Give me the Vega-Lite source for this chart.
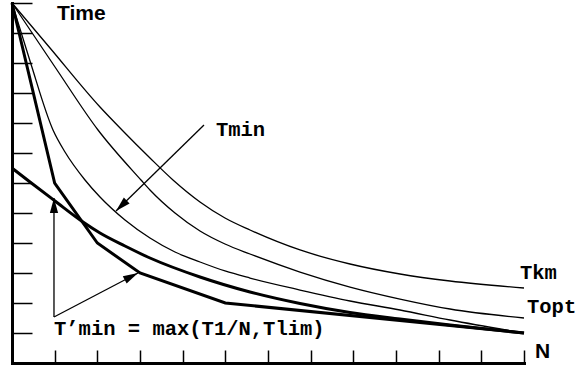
{
  "$schema": "https://vega.github.io/schema/vega-lite/v6.json",
  "width": 512,
  "height": 360,
  "autosize": {"type": "none"},
  "padding": {"left": 12, "top": 3, "right": 51, "bottom": 7},
  "background": "white",
  "config": {
    "view": {"stroke": null},
    "axis": {"domainColor": "black", "domainWidth": 3, "tickColor": "black", "tickWidth": 1.5, "labels": false, "grid": false, "tickCount": 12, "domainCap": "square"},
    "axisX": {"tickSize": -13},
    "axisY": {"tickSize": -20}
  },
  "datasets": {
    "curves": [
      {"curve": "Tkm", "n": 0, "t": 12},
      {"curve": "Tkm", "n": 0.891, "t": 10.5},
      {"curve": "Tkm", "n": 2.0625, "t": 8.533},
      {"curve": "Tkm", "n": 2.578, "t": 7.767},
      {"curve": "Tkm", "n": 3.234, "t": 6.833},
      {"curve": "Tkm", "n": 3.773, "t": 6.1},
      {"curve": "Tkm", "n": 4.406, "t": 5.367},
      {"curve": "Tkm", "n": 4.992, "t": 4.833},
      {"curve": "Tkm", "n": 5.578, "t": 4.433},
      {"curve": "Tkm", "n": 6.75, "t": 3.767},
      {"curve": "Tkm", "n": 7.922, "t": 3.3},
      {"curve": "Tkm", "n": 9.094, "t": 2.967},
      {"curve": "Tkm", "n": 10.266, "t": 2.733},
      {"curve": "Tkm", "n": 12, "t": 2.5},
      {"curve": "Topt", "n": 0, "t": 12},
      {"curve": "Topt", "n": 1.008, "t": 9.867},
      {"curve": "Topt", "n": 2.016, "t": 7.767},
      {"curve": "Topt", "n": 3.023, "t": 6.1},
      {"curve": "Topt", "n": 3.234, "t": 5.767},
      {"curve": "Topt", "n": 3.82, "t": 5.0},
      {"curve": "Topt", "n": 4.406, "t": 4.4},
      {"curve": "Topt", "n": 4.992, "t": 3.967},
      {"curve": "Topt", "n": 5.578, "t": 3.633},
      {"curve": "Topt", "n": 6.75, "t": 3.033},
      {"curve": "Topt", "n": 7.922, "t": 2.533},
      {"curve": "Topt", "n": 9.094, "t": 2.133},
      {"curve": "Topt", "n": 10.266, "t": 1.8},
      {"curve": "Topt", "n": 12, "t": 1.5},
      {"curve": "Tmin", "n": 0, "t": 12},
      {"curve": "Tmin", "n": 0.422, "t": 10.067},
      {"curve": "Tmin", "n": 0.961, "t": 7.767},
      {"curve": "Tmin", "n": 1.242, "t": 7.033},
      {"curve": "Tmin", "n": 1.711, "t": 6.1},
      {"curve": "Tmin", "n": 2.0625, "t": 5.533},
      {"curve": "Tmin", "n": 2.648, "t": 4.767},
      {"curve": "Tmin", "n": 3.234, "t": 4.167},
      {"curve": "Tmin", "n": 3.82, "t": 3.7},
      {"curve": "Tmin", "n": 4.406, "t": 3.367},
      {"curve": "Tmin", "n": 4.992, "t": 3.067},
      {"curve": "Tmin", "n": 5.578, "t": 2.833},
      {"curve": "Tmin", "n": 6.75, "t": 2.433},
      {"curve": "Tmin", "n": 7.922, "t": 2.067},
      {"curve": "Tmin", "n": 9.094, "t": 1.767},
      {"curve": "Tmin", "n": 10.266, "t": 1.433},
      {"curve": "Tmin", "n": 12, "t": 1.0}
    ],
    "tlim": [
      {"n": 0, "t": 6.5},
      {"n": 0.422, "t": 6.033},
      {"n": 1.008, "t": 5.4},
      {"n": 1.664, "t": 4.7},
      {"n": 2.0625, "t": 4.333},
      {"n": 2.648, "t": 3.9},
      {"n": 3.234, "t": 3.5},
      {"n": 4.406, "t": 2.867},
      {"n": 5.578, "t": 2.367},
      {"n": 6.75, "t": 1.983},
      {"n": 7.922, "t": 1.683},
      {"n": 9.094, "t": 1.467},
      {"n": 10.266, "t": 1.267},
      {"n": 12, "t": 1.0}
    ],
    "poly": [
      {"n": 0, "t": 12},
      {"n": 1, "t": 6},
      {"n": 2, "t": 4},
      {"n": 3, "t": 3},
      {"n": 5, "t": 2},
      {"n": 12, "t": 1}
    ],
    "arrows": [
      {"n": 4.5, "t": 7.933, "n2": 2.4375, "t2": 5.067, "dir": 225.6},
      {"n": 0.984, "t": 1.533, "n2": 0.984, "t2": 5.5, "dir": 0},
      {"n": 0.984, "t": 1.533, "n2": 2.953, "t2": 3.0, "dir": 62.3}
    ],
    "monoLabels": [
      {"label": "Tmin", "n": 4.78, "t": 7.567},
      {"label": "Tkm", "n": 11.906, "t": 2.8},
      {"label": "Topt", "n": 12.07, "t": 1.667},
      {"label": "T’min = max(T1/N,Tlim)", "n": 0.984, "t": 0.933}
    ],
    "sansLabels": [
      {"label": "Time", "n": 1.055, "t": 11.45},
      {"label": "N", "n": 12.26, "t": 0.167}
    ]
  },
  "layer": [
    {
      "data": {"name": "curves"},
      "mark": {"type": "line", "interpolate": "monotone", "color": "black", "strokeWidth": 1.3},
      "encoding": {
        "x": {"field": "n", "type": "quantitative", "title": null, "scale": {"domain": [0, 12], "nice": false}},
        "y": {"field": "t", "type": "quantitative", "title": null, "scale": {"domain": [0, 12], "nice": false}},
        "detail": {"field": "curve", "type": "nominal"}
      }
    },
    {
      "data": {"name": "tlim"},
      "mark": {"type": "line", "interpolate": "monotone", "color": "black", "strokeWidth": 3},
      "encoding": {
        "x": {"field": "n", "type": "quantitative", "title": null},
        "y": {"field": "t", "type": "quantitative", "title": null}
      }
    },
    {
      "data": {"name": "poly"},
      "mark": {"type": "line", "interpolate": "linear", "color": "black", "strokeWidth": 3, "strokeJoin": "miter"},
      "encoding": {
        "x": {"field": "n", "type": "quantitative", "title": null},
        "y": {"field": "t", "type": "quantitative", "title": null}
      }
    },
    {
      "data": {"name": "arrows"},
      "mark": {"type": "rule", "color": "black", "strokeWidth": 1.3},
      "encoding": {
        "x": {"field": "n", "type": "quantitative", "title": null},
        "y": {"field": "t", "type": "quantitative", "title": null},
        "x2": {"field": "n2"},
        "y2": {"field": "t2"}
      }
    },
    {
      "data": {"name": "arrows"},
      "mark": {"type": "point", "shape": "M0,0L-0.55,2L0.55,2Z", "filled": true, "color": "black", "opacity": 1, "size": 225, "strokeWidth": 0},
      "encoding": {
        "x": {"field": "n2", "type": "quantitative", "title": null},
        "y": {"field": "t2", "type": "quantitative", "title": null},
        "angle": {"field": "dir", "type": "quantitative", "scale": null}
      }
    },
    {
      "data": {"name": "monoLabels"},
      "mark": {"type": "text", "align": "left", "baseline": "alphabetic", "font": "Liberation Mono", "fontWeight": "bold", "fontSize": 20.5, "color": "black"},
      "encoding": {
        "x": {"field": "n", "type": "quantitative", "title": null},
        "y": {"field": "t", "type": "quantitative", "title": null},
        "text": {"field": "label"}
      }
    },
    {
      "data": {"name": "sansLabels"},
      "mark": {"type": "text", "align": "left", "baseline": "alphabetic", "font": "Liberation Sans", "fontWeight": "bold", "fontSize": 21, "color": "black"},
      "encoding": {
        "x": {"field": "n", "type": "quantitative", "title": null},
        "y": {"field": "t", "type": "quantitative", "title": null},
        "text": {"field": "label"}
      }
    }
  ]
}
